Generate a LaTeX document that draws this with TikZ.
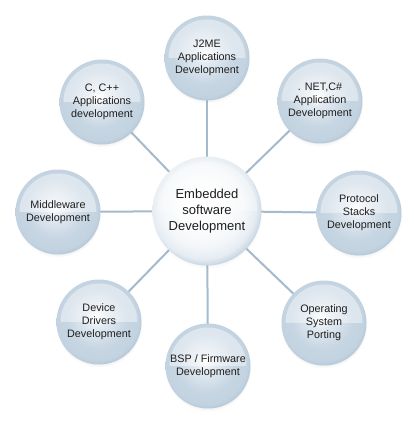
\documentclass[tikz,border=0pt]{standalone}
\usepackage{fontspec}
\setmainfont{Liberation Sans}
\usetikzlibrary{backgrounds,shadows}
\definecolor{rimc}{HTML}{B3C6D6}
\definecolor{lowc}{HTML}{C6D5E2}
\definecolor{upc}{HTML}{E2EAF1}
\definecolor{linec}{HTML}{A5BACC}
\definecolor{txtc}{HTML}{1E1E1E}
\pgfdeclareradialshading{bubshade}{\pgfpoint{-2bp}{3bp}}{color(0bp)=(white); color(6bp)=(upc); color(18bp)=(lowc); color(24bp)=(lowc!85!rimc); color(27bp)=(rimc); color(50bp)=(rimc)}
\pgfdeclareradialshading{hubshade}{\pgfpoint{-3bp}{4bp}}{color(0bp)=(white); color(10bp)=(white!96!lowc); color(19bp)=(white!80!lowc); color(24bp)=(white!55!lowc); color(27bp)=(lowc); color(50bp)=(lowc)}
\tikzset{
  bubble/.style={circle, minimum size=85pt, inner sep=0pt, align=center,
    text=txtc, font=\fontsize{10.8}{13}\selectfont,
    shading=bubshade,
    circular drop shadow={shadow xshift=0pt, shadow yshift=-2pt, shadow scale=1.02, opacity=0.18},
    path picture={
      \begin{scope}
        \clip (path picture bounding box.center) circle[radius=38.5pt];
        \fill[white, fill opacity=0.42]
          ([xshift=-45pt]path picture bounding box.center) rectangle
          ([xshift=45pt,yshift=45pt]path picture bounding box.center);
      \end{scope}
    }},
  hub/.style={circle, minimum size=109pt, inner sep=0pt, align=center,
    text=txtc, font=\fontsize{13}{16}\selectfont,
    shading=hubshade,
    circular drop shadow={shadow xshift=0pt, shadow yshift=-2pt, shadow scale=1.02, opacity=0.15},
    path picture={
      \begin{scope}
        \clip (path picture bounding box.center) circle[radius=50pt];
        \fill[white, fill opacity=0.3]
          ([xshift=-55pt]path picture bounding box.center) rectangle
          ([xshift=55pt,yshift=55pt]path picture bounding box.center);
      \end{scope}
    }},
  spoke/.style={draw=linec, line width=2pt}
}
\begin{document}
\begin{tikzpicture}[x=1pt,y=-1pt]
  \begin{pgfonlayer}{background}
    \fill[white] (0,0) rectangle (414,421);
  \end{pgfonlayer}
  \path[use as bounding box] (0,0) rectangle (414,421);
  \node[hub] (hub) at (207,211) {Embedded\\software\\Development};
  \node[bubble] (j2me) at (207,58) {J2ME\\Applications\\Development};
  \node[bubble] (net) at (320,101) {. NET,C\#\\Application\\Development};
  \node[bubble] (proto) at (359,213) {Protocol\\Stacks\\Development};
  \node[bubble] (os) at (324,323) {Operating\\System\\Porting};
  \node[bubble] (bsp) at (208,366) {BSP / Firmware\\Development};
  \node[bubble] (dev) at (99,322) {Device\\Drivers\\Development};
  \node[bubble] (mid) at (58,212) {Middleware\\Development};
  \node[bubble] (cpp) at (102,102) {C, C++\\Applications\\development};
  \begin{pgfonlayer}{background}
    \foreach \n in {j2me,net,proto,os,bsp,dev,mid,cpp}
      \draw[spoke] (hub.center) -- (\n.center);
  \end{pgfonlayer}
\end{tikzpicture}
\end{document}
